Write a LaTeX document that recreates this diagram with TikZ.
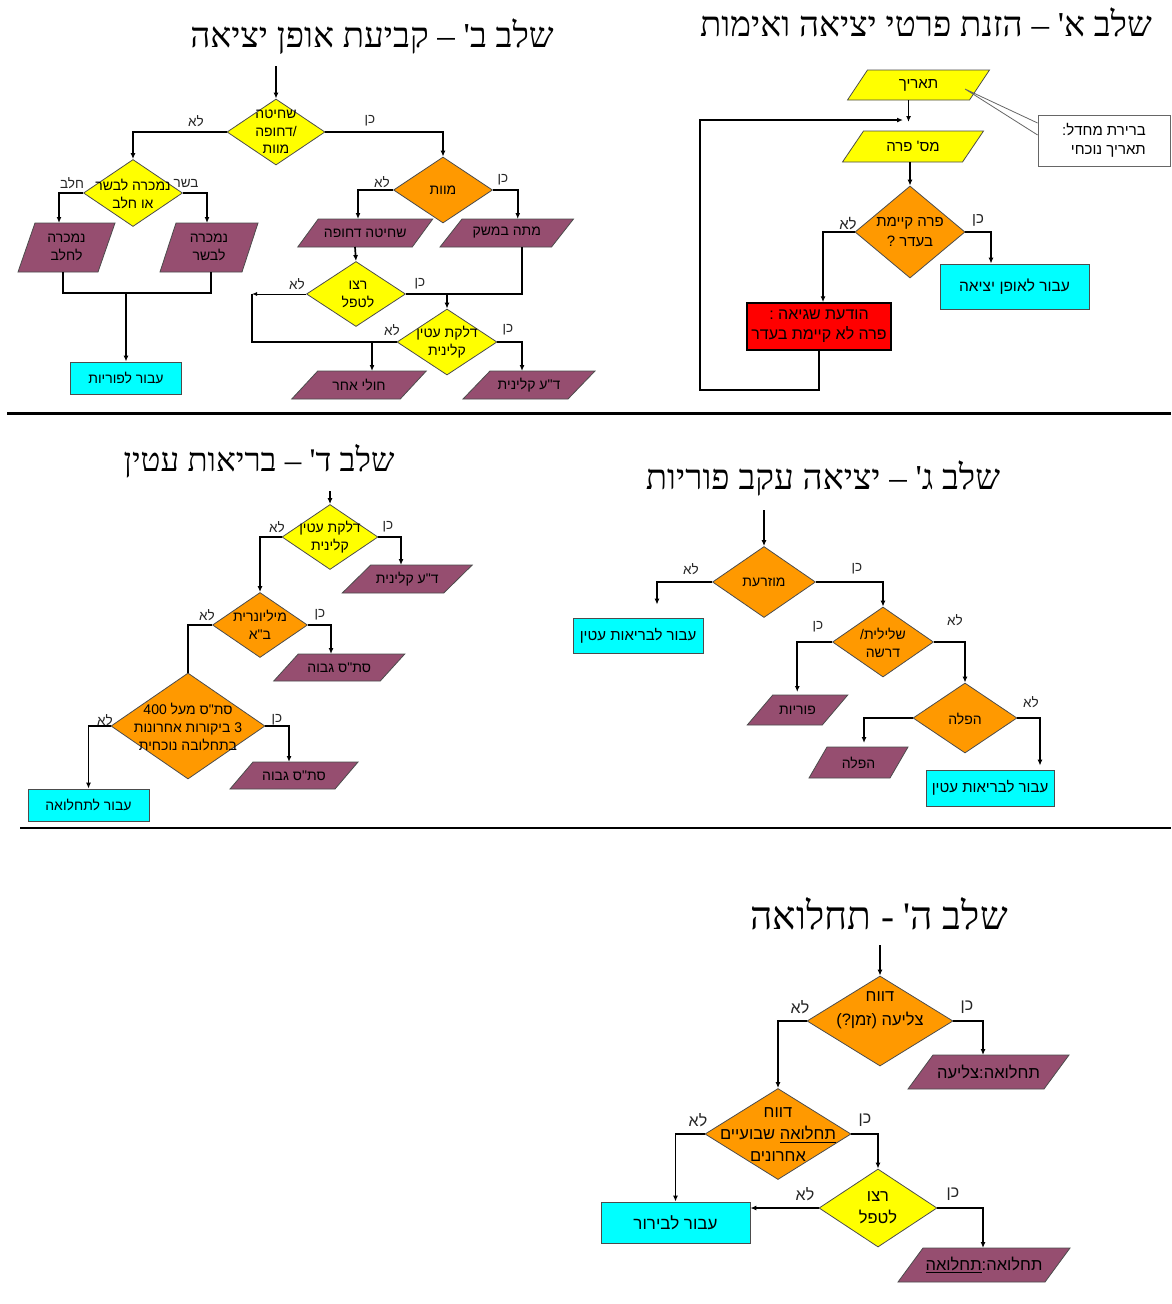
\documentclass[tikz,border=0pt]{standalone}
\usepackage{fontspec}
\usetikzlibrary{shapes.geometric,arrows.meta}
\newfontfamily\heb[Script=Hebrew]{Liberation Sans}
\newfontfamily\hebt[Script=Hebrew]{Liberation Serif}
\TeXXeTstate=1
\newcommand\R[1]{\beginR #1\endR}
\definecolor{cyel}{RGB}{255,255,0}
\definecolor{corange}{RGB}{255,153,0}
\definecolor{cpur}{RGB}{150,78,112}
\definecolor{ccyan}{RGB}{0,255,255}
\definecolor{cred}{RGB}{255,0,0}
% name, x, y, w, h, slant, fill, text style, text
\newcommand\para[9]{%
  \draw[pbox,fill=#7] ({#2-#4/2-#6/2},{#3+#5/2}) -- ({#2+#4/2-#6/2},{#3+#5/2}) -- ({#2+#4/2+#6/2},{#3-#5/2}) -- ({#2-#4/2+#6/2},{#3-#5/2}) -- cycle;
  \coordinate (#1-t) at ({#2+#6/2},{#3-#5/2});
  \coordinate (#1-b) at ({#2-#6/2},{#3+#5/2});
  \node[#8] (#1) at (#2,#3) {#9};
}
\begin{document}
\begin{tikzpicture}[x=1pt,y=-1pt,
  conn/.style={draw=black,line width=1.7pt},
  arr/.style={conn,-{Latex[length=6pt,width=5pt]}},
  dia/.style={diamond,draw=black!70,line width=0.8pt,inner sep=0pt},
  rbox/.style={rectangle,draw=black!70,line width=0.8pt,inner sep=0pt,align=center,font=\heb\fontsize{14}{18}\selectfont},
  pbox/.style={draw=black!70,line width=0.8pt},
  txt/.style={align=center,inner sep=0pt,font=\heb\fontsize{14}{18}\selectfont},
  txtA/.style={align=center,inner sep=0pt,font=\heb\fontsize{15}{20}\selectfont},
  txtE/.style={align=center,inner sep=0pt,font=\heb\fontsize{16.5}{22}\selectfont},
  lbl/.style={inner sep=0pt,font=\heb\fontsize{13.5}{15}\selectfont,text=black!85},
  lblA/.style={inner sep=0pt,font=\heb\fontsize{15}{17}\selectfont,text=black!85},
  lblE/.style={inner sep=0pt,font=\heb\fontsize{16}{18}\selectfont,text=black!85},
  ttl/.style={inner sep=0pt,font=\hebt\fontsize{35}{40}\selectfont},
  ttlE/.style={inner sep=0pt,font=\hebt\fontsize{39}{44}\selectfont}]
\fill[white] (0,0) rectangle (1171,1304);
\useasboundingbox (0,0) rectangle (1171,1304);

% separators
\draw[line width=3pt] (7,413) -- (1171,413);
\draw[line width=2.5pt] (20,828) -- (1171,828);

%================ Stage A
\node[ttl] (tA) at (926,22) {\R{שלב א' – הזנת פרטי יציאה ואימות}};
\para{pA1}{918.5}{85}{122}{30}{20}{cyel}{txtA}{\R{תאריך}}
\para{pA2}{913}{146.5}{120}{31}{21}{cyel}{txtA}{\R{מס' פרה}}
\node[dia,fill=corange,minimum width=110pt,minimum height=92pt] (dA) at (910,232) {};
\node[txtA] (dAt) at (910,232) {\R{פרה קיימת}\\\R{בעדר ?}};
\node[rbox,fill=ccyan,minimum width=149pt,minimum height=45pt,font=\heb\fontsize{15.5}{20}\selectfont] (bA) at (1014.5,286.5) {\R{עבור לאופן יציאה}};
\node[rbox,fill=cred,draw=black,line width=1.5pt,minimum width=144pt,minimum height=47pt,font=\heb\fontsize{16}{20}\selectfont] (rA) at (819,326.5) {\R{הודעת שגיאה :}\\\R{פרה לא קיימת בעדר}};
\node[rbox,fill=white,draw=black!60,minimum width=132pt,minimum height=51pt,align=right,font=\heb\fontsize{15}{19}\selectfont] (cA) at (1104,140.5) {\R{ברירת מחדל:}\\\R{תאריך נוכחי}};
\coordinate (cAtip) at (965,89);
\draw[black!60,line width=0.8pt] (cAtip) -- ([yshift=17.5pt]cA.west) (cAtip) -- ([yshift=5.5pt]cA.west);
\coordinate (jA) at (908.5,122);
\coordinate (lA) at (700,390);
\coordinate (jA2) at (903,120);
\draw[arr] (pA1-b) -- (jA);
\draw[arr] (rA.south) |- (lA) |- (jA2);
\draw[arr] (dA.north |- pA2-b) -- (dA.north);
\draw[arr] (dA.east) -| ([xshift=-23.5pt]bA.north);
\draw[arr] (dA.west) -| ([xshift=4pt]rA.north);
\node[lblA] (lA1) at (848,224) {\R{לא}};
\node[lblA] (lA2) at (978,220) {\R{כן}};

%================ Stage B
\node[ttl] (tB) at (372,37) {\R{שלב ב' – קביעת אופן יציאה}};
\coordinate (sB) at (276,66);
\node[dia,fill=cyel,minimum width=98pt,minimum height=66pt] (dB1) at (276,132) {};
\node[align=center,inner sep=0pt,font=\heb\fontsize{14}{17.5}\selectfont] (dB1t) at (276,132) {\R{שחיטה}\\\R{/דחופה}\\\R{מוות}};
\node[dia,fill=cyel,minimum width=99pt,minimum height=67pt] (dB2) at (133,193) {};
\node[txt] (dB2t) at (133,194) {\R{נמכרה לבשר}\\\R{או חלב}};
\para{pB1}{66.5}{247.5}{80}{49}{17}{cpur}{txt}{\R{נמכרה}\\\R{לחלב}}
\para{pB2}{209}{247.5}{82}{49}{16}{cpur}{txt}{\R{נמכרה}\\\R{לבשר}}
\node[rbox,fill=ccyan,minimum width=111pt,minimum height=32pt] (bB1) at (126,378) {\R{עבור לפוריות}};
\coordinate (jB) at (126,293);
\node[dia,fill=corange,minimum width=99pt,minimum height=66pt] (dB3) at (443,190) {};
\node[txt] (dB3t) at (443,190) {\R{מוות}};
\para{pB3}{365.25}{233}{114.5}{28}{20.5}{cpur}{txt}{\R{שחיטה דחופה}}
\para{pB4}{506.75}{233}{111.5}{28}{22}{cpur}{txt}{\R{מתה במשק}}
\node[dia,fill=cyel,minimum width=99pt,minimum height=65pt] (dB4) at (356,294) {};
\node[txt] (dB4t) at (358,294) {\R{רצו}\\\R{לטפל}};
\node[dia,fill=cyel,minimum width=100pt,minimum height=66pt] (dB5) at (447,342) {};
\node[txt] (dB5t) at (447,342) {\R{דלקת עטין}\\\R{קלינית}};
\para{pB5}{359}{385}{108.5}{28}{26}{cpur}{txt}{\R{חולי אחר}}
\para{pB6}{529}{385}{105}{28}{27}{cpur}{txt}{\R{ד"ע קלינית}}
\coordinate (cB) at (252,294);
\coordinate (jB2) at (447,294);

\draw[arr] (sB) -- (dB1.north);
\draw[arr] (dB1.west) -| (dB2.north);
\draw[arr] (dB1.east) -| (dB3.north);
\draw[arr] (dB2.west) -| ([xshift=-16pt]pB1-t);
\draw[arr] (dB2.east) -| ([xshift=-10pt]pB2-t);
\draw[conn] ([xshift=5pt]pB1-b) |- (jB) -| ([xshift=10pt]pB2-b);
\draw[arr] (jB) -- (bB1.north);
\draw[arr] (dB3.west) -| ([xshift=-17.5pt]pB3-t);
\draw[arr] (dB3.east) -| (pB4-t);
\draw[arr] (pB3-b) -- (dB4.north);
\draw[conn] ([xshift=26pt]pB4-b) |- (dB4.east);
\draw[arr] (jB2) -- (dB5.north);
\draw[draw=black,line width=1pt,-{Latex[length=5pt,width=4pt]}] (dB4.west) -- (cB);
\draw[conn] (cB) |- (dB5.west);
\draw[arr] (dB5.west) -| (pB5-t);
\draw[arr] (dB5.east) -| ([xshift=-20.5pt]pB6-t);
\node[lbl] (lB1) at (196,121) {\R{לא}};
\node[lbl] (lB2) at (370,121) {\R{כן}};
\node[lbl] (lB3) at (72,183) {\R{חלב}};
\node[lbl] (lB4) at (186,183) {\R{בשר}};
\node[lbl] (lB5) at (382,182) {\R{לא}};
\node[lbl] (lB6) at (503,180) {\R{כן}};
\node[lbl] (lB7) at (297,284) {\R{לא}};
\node[lbl] (lB8) at (420,284) {\R{כן}};
\node[lbl] (lB9) at (392,330) {\R{לא}};
\node[lbl] (lB10) at (508,330) {\R{כן}};

%================ Stage C
\node[ttl] (tC) at (823,478) {\R{שלב ג' – יציאה עקב פוריות}};
\coordinate (sC) at (764,510);
\node[dia,fill=corange,minimum width=103pt,minimum height=71pt] (dC1) at (764,582) {};
\node[txt] (dC1t) at (764,582) {\R{מוזרעת}};
\node[rbox,fill=ccyan,minimum width=130pt,minimum height=35pt,font=\heb\fontsize{15}{18}\selectfont] (bC1) at (638,635.5) {\R{עבור לבריאות עטין}};
\node[dia,fill=corange,minimum width=101pt,minimum height=70pt] (dC2) at (883,642) {};
\node[txt] (dC2t) at (883,643) {\R{שלילית/}\\\R{דרשה}};
\para{pC1}{797.5}{710}{75}{30}{25.5}{cpur}{txt}{\R{פוריות}}
\node[dia,fill=corange,minimum width=104pt,minimum height=70pt] (dC3) at (965,718) {};
\node[txt] (dC3t) at (965,719) {\R{הפלה}};
\para{pC2}{858.5}{762.5}{81}{31}{18}{cpur}{txt}{\R{הפלה}}
\node[rbox,fill=ccyan,minimum width=128pt,minimum height=36pt,font=\heb\fontsize{15}{18}\selectfont] (bC2) at (990,788) {\R{עבור לבריאות עטין}};
\draw[arr] (sC) -- (dC1.north);
\draw[arr,shorten >=13pt] (dC1.west) -| ([xshift=19pt]bC1.north);
\draw[arr] (dC1.east) -| (dC2.north);
\draw[arr,shorten >=3pt] (dC2.west) -| ([xshift=-13pt]pC1-t);
\draw[arr] (dC2.east) -| (dC3.north);
\draw[arr,shorten >=4pt] (dC3.west) -| ([xshift=-3.5pt]pC2-t);
\draw[arr,shorten >=4pt] (dC3.east) -| ([xshift=50pt]bC2.north);
\node[lbl] (lC1) at (691,569) {\R{לא}};
\node[lbl] (lC2) at (857,569) {\R{כן}};
\node[lbl] (lC3) at (818,627) {\R{כן}};
\node[lbl] (lC4) at (955,620) {\R{לא}};
\node[lbl] (lC5) at (1031,702) {\R{לא}};

%================ Stage D
\node[ttl,font=\hebt\fontsize{33}{38}\selectfont] (tD) at (259,461) {\R{שלב ד' – בריאות עטין}};
\coordinate (sD) at (330,491);
\node[dia,fill=cyel,minimum width=96pt,minimum height=65pt] (dD1) at (330,537) {};
\node[txt] (dD1t) at (330,537) {\R{דלקת עטין}\\\R{קלינית}};
\para{pD1}{407.25}{579}{101.5}{28}{28.5}{cpur}{txt}{\R{ד"ע קלינית}}
\node[dia,fill=corange,minimum width=95pt,minimum height=65pt] (dD2) at (260,625) {};
\node[txt] (dD2t) at (260,625) {\R{מיליונרית}\\\R{ב"א}};
\para{pD2}{339.25}{667.5}{106.5}{27}{24.5}{cpur}{txt}{\R{סת"ס גבוה}}
\node[dia,fill=corange,minimum width=154pt,minimum height=106pt] (dD3) at (188,726) {};
\node[txt] (dD3t) at (188,727) {\R{סת"ס מעל 400}\\\R{3 ביקורות אחרונות}\\\R{בתחלובה נוכחית}};
\para{pD3}{294}{775.5}{105}{27}{23}{cpur}{txt}{\R{סת"ס גבוה}}
\node[rbox,fill=ccyan,minimum width=121pt,minimum height=32pt] (bD1) at (88.5,805) {\R{עבור לתחלואה}};
\draw[arr] (sD) -- (dD1.north);
\draw[arr] (dD1.west) -| (dD2.north);
\draw[arr] (dD1.east) -| ([xshift=-20.5pt]pD1-t);
\draw[conn] (dD2.west) -| (dD3.north);
\draw[arr] (dD2.east) -| ([xshift=-20.5pt]pD2-t);
\draw[arr] (dD3.west) -| (bD1.north);
\draw[arr] (dD3.east) -| ([xshift=-16.5pt]pD3-t);
\node[lbl] (lD1) at (277,527) {\R{לא}};
\node[lbl] (lD2) at (388,527) {\R{כן}};
\node[lbl] (lD3) at (207,615) {\R{לא}};
\node[lbl] (lD4) at (320,615) {\R{כן}};
\node[lbl] (lD5) at (105,720) {\R{לא}};
\node[lbl] (lD6) at (277,720) {\R{כן}};

%================ Stage E
\node[ttlE] (tE) at (879,914) {\R{שלב ה' - תחלואה}};
\coordinate (sE) at (880,945);
\node[dia,fill=corange,minimum width=146pt,minimum height=90pt] (dE1) at (880,1021) {};
\node[txtE,font=\heb\fontsize{16.5}{24}\selectfont] (dE1t) at (880,1010) {\R{דווח}\\\R{צליעה (זמן?)}};
\para{pE1}{988.5}{1072}{136}{34}{25}{cpur}{txtE}{\R{תחלואה:צליעה}}
\node[dia,fill=corange,minimum width=146pt,minimum height=91pt] (dE2) at (778,1134) {};
\node[txtE] (dE2t) at (778,1135) {\R{דווח}\\\R{\underline{תחלואה} שבועיים}\\\R{אחרונים}};
\node[rbox,fill=ccyan,minimum width=149pt,minimum height=41pt,font=\heb\fontsize{17}{20}\selectfont] (bE1) at (675.5,1222.5) {\R{עבור לבירור}};
\node[dia,fill=cyel,minimum width=118pt,minimum height=78pt] (dE3) at (878,1208) {};
\node[txtE] (dE3t) at (878,1208) {\R{רצו}\\\R{לטפל}};
\para{pE2}{984}{1265}{147}{34}{25}{cpur}{txtE}{\R{תחלואה:\underline{תחלואה}}}
\draw[arr] (sE) -- (dE1.north);
\draw[arr] (dE1.west) -| (dE2.north);
\draw[arr] (dE1.east) -| ([xshift=-18pt]pE1-t);
\draw[arr] (dE2.west) -| (bE1.north);
\draw[arr] (dE2.east) -| (dE3.north);
\draw[arr] (dE3.west) -- (dE3.west -| bE1.east);
\draw[arr] (dE3.east) -| ([xshift=-13.5pt]pE2-t);
\node[lblE] (lE1) at (800,1007) {\R{לא}};
\node[lblE] (lE2) at (967,1007) {\R{כן}};
\node[lblE] (lE3) at (698,1120) {\R{לא}};
\node[lblE] (lE4) at (865,1120) {\R{כן}};
\node[lblE] (lE5) at (805,1194) {\R{לא}};
\node[lblE] (lE6) at (953,1194) {\R{כן}};
\end{tikzpicture}
\end{document}
